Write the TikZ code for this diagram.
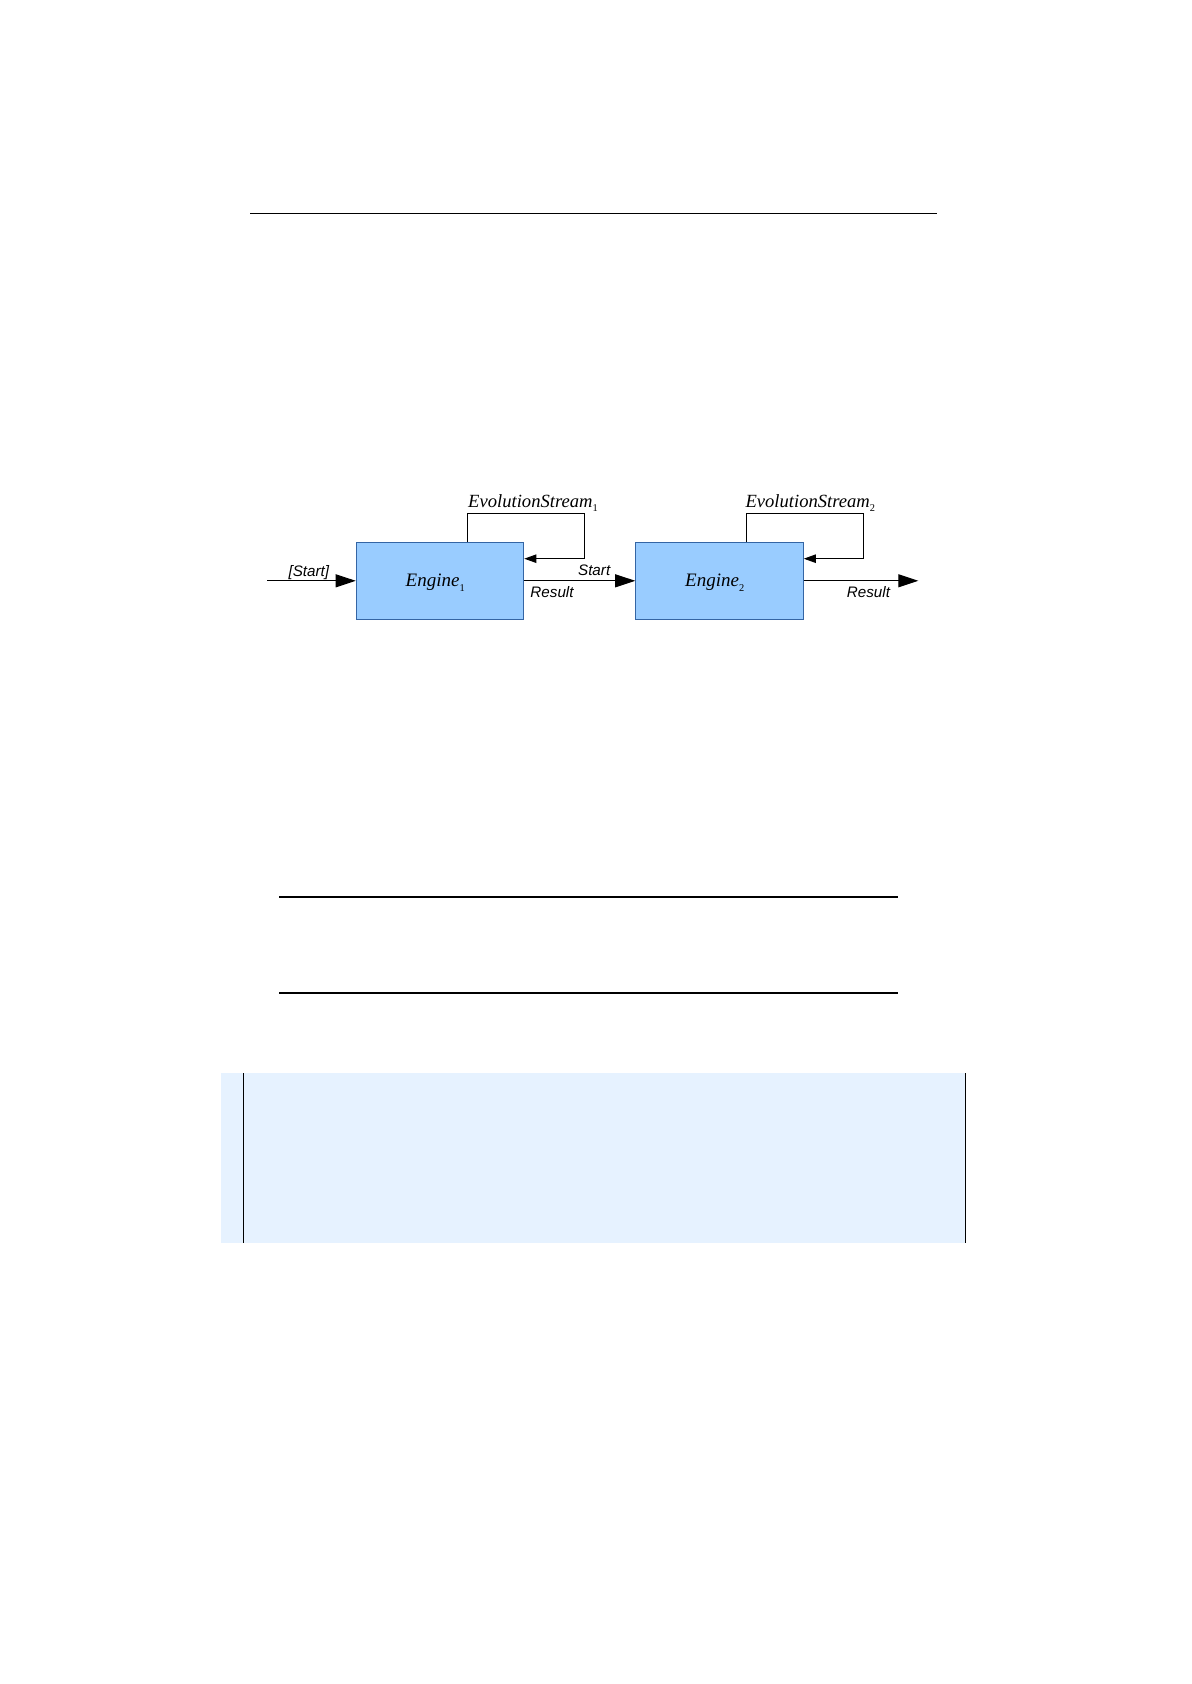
\documentclass[tikz,border=0pt]{standalone}
\usepackage{fontspec}
\setmainfont{Liberation Serif}
\setsansfont{Liberation Sans}
\usetikzlibrary{arrows.meta}
\definecolor{enginefill}{HTML}{99CCFF}
\definecolor{engineline}{HTML}{3465A4}
\definecolor{codeback}{HTML}{E6F2FF}
\newcommand{\lowidx}[1]{\raisebox{-2.2pt}{\fontsize{5.2}{5.2}\selectfont\upshape #1}}
\begin{document}
\begin{tikzpicture}[x=0.5pt,y=-0.5pt,
  engine/.style={draw=engineline,fill=enginefill,line width=0.5pt,
    minimum width=83.8pt,minimum height=38.5pt,inner sep=0pt,
    text height=8.3pt,text depth=2.3pt,
    font=\fontsize{9.5}{11}\selectfont\itshape},
  flow/.style={line width=0.5pt,-{Triangle[length=10pt,width=6.5pt]}},
  back/.style={line width=0.5pt,-{Triangle[length=6pt,width=4.2pt]}},
  lbl/.style={font=\sffamily\itshape\fontsize{7.6}{9}\selectfont,inner sep=0pt,anchor=base},
  streamlbl/.style={font=\fontsize{9.3}{11}\selectfont\itshape,inner sep=0pt,anchor=base}]
  \useasboundingbox (0,0) rectangle (1191,1684);
  % 上の罫線
  \draw[line width=0.5pt] (250.2,213.7) -- (936.5,213.7);
  % エンジン2つ
  \node[engine] (engine1) at (440,580.8) {Engine\lowidx{1}\hspace*{4.8pt}};
  \node[engine] (engine2) at (719.5,580.8) {Engine\lowidx{2}\hspace*{4.8pt}};
  \coordinate (start) at (267.3,580.8);
  \coordinate (end) at (918.3,580.8);
  \coordinate (loop1) at (584.7,513.7);
  \coordinate (loop2) at (863.3,513.7);
  \draw[flow] (start) -- node[lbl,pos=0.47,yshift=2.4pt]{[Start]} (engine1);
  \draw[flow] (engine1) -- node[lbl,pos=0.63,yshift=2.6pt]{Start}
    node[lbl,pos=0.25,yshift=-8.3pt]{Result} (engine2);
  \draw[flow] (engine2) -- node[lbl,pos=0.565,yshift=-8.4pt]{Result} (end);
  % EvolutionStreamのループ
  \draw[back] ([xshift=13.65pt]engine1.north) |- (loop1) |- ([yshift=11.05pt]engine1.east);
  \draw[back] ([xshift=13.6pt]engine2.north) |- (loop2) |- ([yshift=11.05pt]engine2.east);
  \node[streamlbl] (stream1) at (533,507.3) {EvolutionStream\lowidx{1}};
  \node[streamlbl] (stream2) at (810.3,507.3) {EvolutionStream\lowidx{2}};
  % 下の罫線2本
  \draw[line width=1pt] (279,896.7) -- (897.9,896.7);
  \draw[line width=1pt] (279,992.7) -- (897.9,992.7);
  % 空のコード枠
  \fill[codeback] (221,1073.3) rectangle (965.3,1242.7);
  \draw[line width=0.5pt] (243.3,1073.3) -- (243.3,1242.7);
  \draw[line width=0.5pt] (965,1073.3) -- (965,1242.7);
\end{tikzpicture}
\end{document}
